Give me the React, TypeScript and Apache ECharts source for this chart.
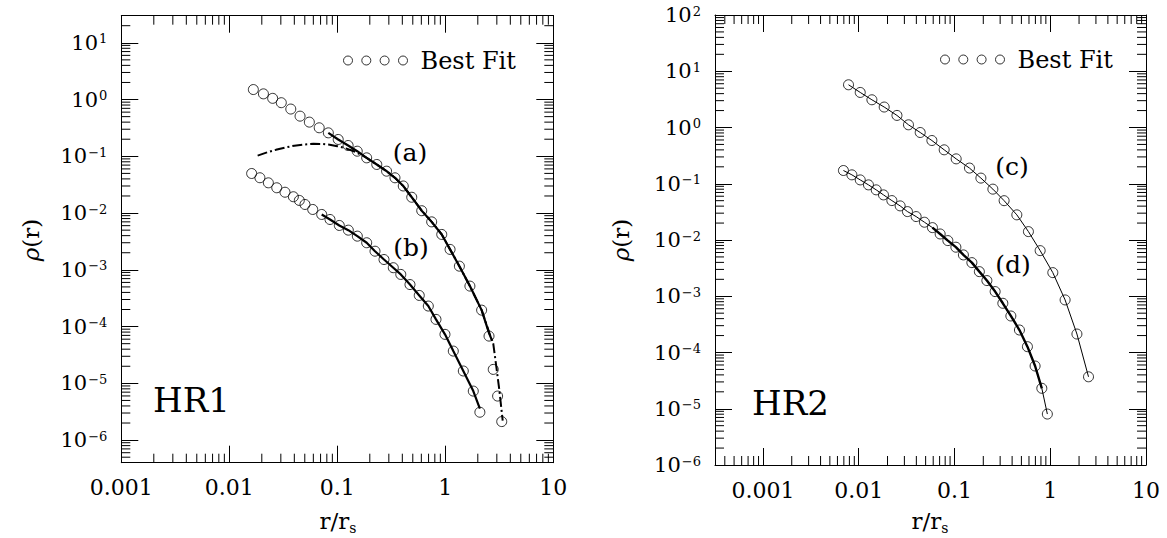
import React, { useEffect, useRef } from "react";
import * as echarts from "echarts";

// ---------- axis ranges & tick labels ----------
const X1_RANGE = [0.001, 10];
const Y1_RANGE = [4e-7, 30];
const X2_RANGE = [0.000316, 10];
const Y2_RANGE = [1e-6, 100];
const xTickValues = [0.001, 0.01, 0.1, 1, 10];
const xTickLabels = ["0.001", "0.01", "0.1", "1", "10"];
const yTickExponents = [-6, -5, -4, -3, -2, -1, 0, 1, 2];
const yTickExpLabels = ["\u22126", "\u22125", "\u22124", "\u22123", "\u22122", "\u22121", "0", "1", "2"];
const minorMultipliers = [2, 3, 4, 5, 6, 7, 8, 9];

// ---------- HR1 ----------
const fitA: number[][] = [
  [0.0167, 1.5], [0.0207, 1.26], [0.0252, 1.05], [0.0303, 0.88], [0.0371, 0.68],
  [0.0452, 0.51], [0.0551, 0.4], [0.068, 0.318], [0.0826, 0.259], [0.102, 0.198],
  [0.126, 0.155], [0.153, 0.123], [0.187, 0.094], [0.232, 0.0718], [0.286, 0.0547],
  [0.342, 0.0418], [0.408, 0.03], [0.489, 0.019], [0.605, 0.011], [0.748, 0.007],
  [0.927, 0.0042], [1.107, 0.00229], [1.35, 0.00116], [1.69, 5.17e-4], [2.17, 1.95e-4],
  [2.54, 6.8e-5], [2.78, 1.76e-5], [3.05, 5.97e-6], [3.33, 2.12e-6],
];
const simA: number[][] = [
  [0.0826, 0.259], [0.102, 0.198], [0.126, 0.155], [0.153, 0.123], [0.187, 0.094],
  [0.232, 0.0718], [0.286, 0.0547], [0.342, 0.0418], [0.408, 0.03], [0.489, 0.019],
  [0.605, 0.011], [0.748, 0.007], [0.927, 0.0042], [1.107, 0.00229], [1.35, 0.00116],
  [1.69, 5.17e-4], [2.17, 1.95e-4], [2.55, 7.5e-5], [2.72, 5.6e-5],
];
const dashA: number[][] = [
  [0.0183, 0.103], [0.022, 0.116], [0.027, 0.13], [0.033, 0.143], [0.04, 0.154],
  [0.05, 0.162], [0.06, 0.166], [0.072, 0.165], [0.085, 0.16], [0.1, 0.151],
  [0.12, 0.138], [0.15, 0.118], [0.187, 0.094], [0.232, 0.0718], [0.286, 0.0547],
  [0.342, 0.0418], [0.408, 0.03], [0.489, 0.019], [0.605, 0.011], [0.748, 0.007],
  [0.927, 0.0042], [1.107, 0.00229], [1.35, 0.00116], [1.69, 5.17e-4], [2.17, 1.95e-4],
  [2.54, 8e-5], [2.78, 5e-5], [2.99, 1.76e-5], [3.16, 7.8e-6], [3.4, 2.2e-6],
];
const fitB: number[][] = [
  [0.0161, 0.0498], [0.0192, 0.0419], [0.023, 0.0341], [0.0275, 0.0279], [0.0328, 0.0233],
  [0.0392, 0.0194], [0.0445, 0.0167], [0.0502, 0.01417], [0.0592, 0.01157], [0.0717, 0.00945],
  [0.0856, 0.00771], [0.1044, 0.00605], [0.1265, 0.005], [0.1533, 0.00392], [0.1871, 0.003],
  [0.2234, 0.00213], [0.2706, 0.00152], [0.33, 0.00109], [0.387, 8.3e-4], [0.471, 5.5e-4],
  [0.574, 3.54e-4], [0.696, 2.3e-4], [0.82, 1.34e-4], [0.993, 7.3e-5], [1.186, 3.7e-5],
  [1.468, 1.65e-5], [1.816, 7.3e-6], [2.09, 3.1e-6],
];
const simB: number[][] = [
  [0.0717, 0.00945], [0.0856, 0.00771], [0.1044, 0.00605], [0.1265, 0.005], [0.1533, 0.00392],
  [0.1871, 0.003], [0.2234, 0.00213], [0.2706, 0.00152], [0.33, 0.00109], [0.387, 8.3e-4],
  [0.471, 5.5e-4], [0.574, 3.54e-4], [0.696, 2.3e-4], [0.82, 1.34e-4], [0.993, 7.3e-5],
  [1.186, 3.7e-5], [1.468, 1.65e-5], [1.816, 7.3e-6], [2.09, 3.6e-6],
];

// ---------- HR2 ----------
const fitC: number[][] = [
  [0.00783, 5.75], [0.01038, 4.2], [0.01374, 3.11], [0.01846, 2.31], [0.0251, 1.64],
  [0.0331, 1.117], [0.0439, 0.815], [0.0581, 0.587], [0.0781, 0.401], [0.1042, 0.277],
  [0.1435, 0.19], [0.1888, 0.126], [0.2518, 0.0802], [0.33, 0.05], [0.448, 0.028],
  [0.592, 0.0141], [0.785, 0.00647], [1.064, 0.00263], [1.43, 8.6e-4], [1.9, 2.13e-4],
  [2.51, 3.7e-5],
];
const fitD: number[][] = [
  [0.00693, 0.172], [0.00849, 0.144], [0.01038, 0.117], [0.01265, 0.0955], [0.01523, 0.0779],
  [0.01815, 0.0634], [0.0222, 0.0502], [0.0271, 0.0404], [0.0323, 0.032], [0.0398, 0.0261],
  [0.0486, 0.0207], [0.0589, 0.0166], [0.0709, 0.0128], [0.0853, 0.00976], [0.1035, 0.00745],
  [0.124, 0.00543], [0.152, 0.00396], [0.182, 0.00274], [0.218, 0.0019], [0.266, 0.00121],
  [0.32, 7.5e-4], [0.388, 4.46e-4], [0.477, 2.51e-4], [0.578, 1.27e-4], [0.695, 5.75e-5],
  [0.817, 2.31e-5], [0.933, 8.05e-6],
];
const simDThick: number[][] = fitD.slice(11, 26);

const F = "'DejaVu Serif', serif";
const BLACK = "#000";

function minorTicks(xr: number[], yr: number[]) {
  const out: number[][] = [];
  const inRange = (v: number, r: number[]) => v > r[0] * 1.0001 && v < r[1] * 0.9999;
  for (let e = Math.floor(Math.log10(yr[0])); e <= Math.ceil(Math.log10(yr[1])); e++) {
    for (const m of minorMultipliers) {
      const v = m * Math.pow(10, e);
      if (inRange(v, yr)) {
        out.push([xr[0], v, 0]);
        out.push([xr[1], v, 1]);
      }
    }
  }
  for (let e = Math.floor(Math.log10(xr[0])); e <= Math.ceil(Math.log10(xr[1])); e++) {
    for (const m of minorMultipliers) {
      const v = m * Math.pow(10, e);
      if (inRange(v, xr)) {
        out.push([v, yr[0], 2]);
        out.push([v, yr[1], 3]);
      }
    }
  }
  return out;
}

const xFmt = (v: number) => {
  const i = xTickValues.findIndex((t) => Math.abs(Math.log10(v) - Math.log10(t)) < 1e-6);
  return i < 0 ? "" : xTickLabels[i];
};
const yFmt = (v: number) => {
  const e = Math.log10(v);
  const r = Math.round(e);
  if (Math.abs(e - r) > 1e-6) return "";
  const i = yTickExponents.indexOf(r);
  return i < 0 ? "" : `{b|10}{s|${yTickExpLabels[i]}}`;
};

function xAxes(gridIndex: number, r: number[]) {
  const base = {
    type: "log" as const,
    logBase: 10,
    gridIndex,
    min: r[0],
    max: r[1],
    axisLine: { show: true, onZero: false, lineStyle: { color: BLACK, width: 1 } },
    axisTick: { show: true, inside: true, length: 17, lineStyle: { color: BLACK, width: 1 } },
    splitLine: { show: false },
    minorTick: { show: false },
  };
  return [
    {
      ...base,
      position: "bottom",
      axisLabel: { show: true, margin: 14, formatter: xFmt, fontFamily: F, fontSize: 22, color: BLACK },
    },
    { ...base, position: "top", axisLabel: { show: false } },
  ];
}
function yAxes(gridIndex: number, r: number[]) {
  const base = {
    type: "log" as const,
    logBase: 10,
    gridIndex,
    min: r[0],
    max: r[1],
    axisLine: { show: true, onZero: false, lineStyle: { color: BLACK, width: 1 } },
    axisTick: { show: true, inside: true, length: 17, lineStyle: { color: BLACK, width: 1 } },
    splitLine: { show: false },
    minorTick: { show: false },
  };
  return [
    {
      ...base,
      position: "left",
      axisLabel: {
        show: true,
        margin: 14,
        formatter: yFmt,
        color: BLACK,
        rich: {
          b: { fontFamily: F, fontSize: 21, color: BLACK },
          s: { fontFamily: F, fontSize: 13, color: BLACK, verticalAlign: "top", padding: [0, 0, 0, 1] },
        },
      },
    },
    { ...base, position: "right", axisLabel: { show: false } },
  ];
}

const tickRenderer = (params: any, api: any) => {
  const p = api.coord([api.value(0), api.value(1)]);
  const side = api.value(2);
  const L = 9;
  let x2 = p[0];
  let y2 = p[1];
  if (side === 0) x2 += L;
  else if (side === 1) x2 -= L;
  else if (side === 2) y2 -= L;
  else y2 += L;
  return {
    type: "line",
    shape: { x1: p[0], y1: p[1], x2, y2 },
    style: { stroke: BLACK, lineWidth: 1 },
  };
};

const fourCircles = (() => {
  const r = 4.5;
  const cs = [5, 23.3, 41.6, 60];
  return (
    "path://" +
    cs.map((c) => `M${c - r} 5 A${r} ${r} 0 1 0 ${c + r} 5 A${r} ${r} 0 1 0 ${c - r} 5 Z`).join(" ")
  );
})();

function lineSeries(data: number[][], xi: number, yi: number, width: number, type: any = "solid") {
  return {
    type: "line",
    xAxisIndex: xi,
    yAxisIndex: yi,
    data,
    symbol: "none",
    showSymbol: false,
    silent: true,
    lineStyle: { color: BLACK, width, type },
    z: 3,
  };
}
function fitSeries(data: number[][], xi: number, yi: number) {
  return {
    type: "scatter",
    name: "Best Fit",
    xAxisIndex: xi,
    yAxisIndex: yi,
    data,
    symbol: "circle",
    symbolSize: 10,
    silent: true,
    itemStyle: { color: "rgba(0,0,0,0)", borderColor: BLACK, borderWidth: 1 },
    z: 4,
  };
}

function legendAt(left: number, top: number) {
  return {
    data: ["Best Fit"],
    left,
    top,
    padding: 0,
    icon: fourCircles,
    itemWidth: 64,
    itemHeight: 9,
    selectedMode: false,
    itemStyle: { color: "rgba(0,0,0,0)", borderColor: BLACK, borderWidth: 1 },
    textStyle: { fontFamily: F, fontSize: 24, color: BLACK, padding: [0, 0, 0, 8] },
  };
}

function text(x: number, y: number, t: string, size: number, extra: any = {}) {
  return {
    type: "text",
    x,
    y,
    silent: true,
    ...extra,
    style: {
      text: t,
      fontFamily: F,
      fontSize: size,
      fill: BLACK,
      align: extra.align || "center",
      verticalAlign: "middle",
      rich: extra.rich,
    },
  };
}

export default function App() {
  const ref = useRef<HTMLDivElement>(null);
  useEffect(() => {
    if (!ref.current) return;
    const chart = echarts.init(ref.current, null, { renderer: "svg" });
    const titleRich = {
      i: { fontFamily: F, fontSize: 23, fontStyle: "italic", fill: BLACK },
      n: { fontFamily: F, fontSize: 23, fill: BLACK },
    };
    const xTitleRich = {
      n: { fontFamily: F, fontSize: 23, fill: BLACK, verticalAlign: "top", lineHeight: 26 },
      sub: { fontFamily: F, fontSize: 14, fill: BLACK, verticalAlign: "bottom", lineHeight: 14 },
    };
    chart.setOption({
      animation: false,
      backgroundColor: "#fff",
      grid: [
        { left: 121.3, top: 15.7, width: 432, height: 447, show: false, outerBoundsMode: "none" },
        { left: 715, top: 15, width: 431, height: 450, show: false, outerBoundsMode: "none" },
      ],
      xAxis: [...xAxes(0, X1_RANGE), ...xAxes(1, X2_RANGE)],
      yAxis: [...yAxes(0, Y1_RANGE), ...yAxes(1, Y2_RANGE)],
      legend: [legendAt(343, 48.5), legendAt(940, 47.5)],
      series: [
        lineSeries(dashA, 0, 0, 2, [10, 3, 2, 3]),
        lineSeries(simA, 0, 0, 2.2),
        lineSeries(simB, 0, 0, 2.2),
        fitSeries(fitA, 0, 0),
        fitSeries(fitB, 0, 0),
        lineSeries(fitC, 2, 2, 1),
        lineSeries(fitD, 2, 2, 1),
        lineSeries(simDThick, 2, 2, 2.4),
        fitSeries(fitC, 2, 2),
        fitSeries(fitD, 2, 2),
        {
          type: "custom",
          xAxisIndex: 0,
          yAxisIndex: 0,
          data: minorTicks(X1_RANGE, Y1_RANGE),
          encode: { x: 0, y: 1 },
          renderItem: tickRenderer,
          silent: true,
          clip: false,
          z: 5,
        },
        {
          type: "custom",
          xAxisIndex: 2,
          yAxisIndex: 2,
          data: minorTicks(X2_RANGE, Y2_RANGE),
          encode: { x: 0, y: 1 },
          renderItem: tickRenderer,
          silent: true,
          clip: false,
          z: 5,
        },
      ],
      graphic: [
        text(31, 240, "{i|\u03C1}{n|(r)}", 23, { rotation: Math.PI / 2, rich: titleRich }),
        text(621, 240, "{i|\u03C1}{n|(r)}", 23, { rotation: Math.PI / 2, rich: titleRich }),
        text(338, 522, "{n|r/r}{sub|s}", 23, { rich: xTitleRich }),
        text(930, 522, "{n|r/r}{sub|s}", 23, { rich: xTitleRich }),
        text(153, 400, "HR1", 34, { align: "left" }),
        text(752, 403, "HR2", 34, { align: "left" }),
        text(410, 152, "(a)", 25),
        text(411, 247, "(b)", 25),
        text(1012, 166, "(c)", 25),
        text(1013, 264, "(d)", 25),
      ],
    });
    return () => chart.dispose();
  }, []);
  return (
    <div
      ref={ref}
      style={{ position: "absolute", left: 0, top: 0, width: 1167, height: 538, background: "#fff" }}
    />
  );
}
